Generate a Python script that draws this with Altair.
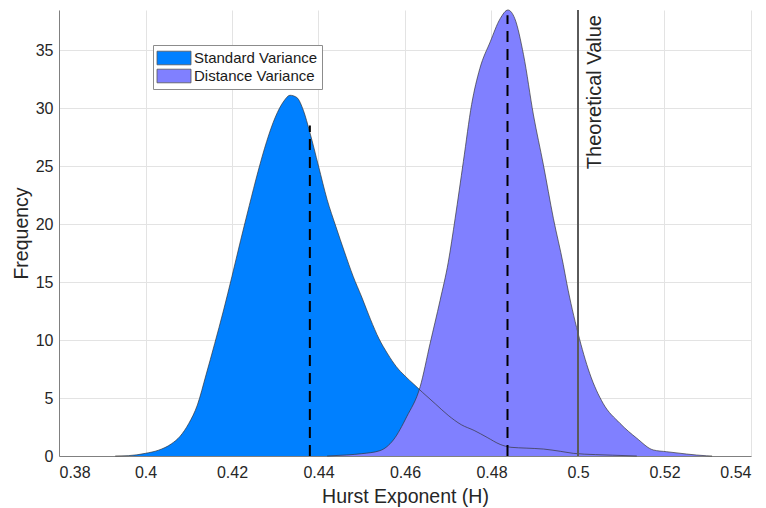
import altair as alt
import pandas as pd

# ---- data ----
std_x = [0.393, 0.396, 0.398, 0.400, 0.403, 0.406, 0.408, 0.410, 0.412, 0.414, 0.416,
         0.418, 0.420, 0.422, 0.424, 0.426, 0.428, 0.430, 0.432, 0.4334, 0.435,
         0.4365, 0.438, 0.440, 0.442, 0.444, 0.446, 0.448, 0.450, 0.452, 0.454,
         0.456, 0.458, 0.460, 0.462, 0.464, 0.467, 0.470, 0.473, 0.476, 0.479,
         0.482, 0.4845, 0.488, 0.492, 0.496, 0.4989, 0.504, 0.508, 0.5136]
std_y = [0.0, 0.03, 0.1, 0.23, 0.5, 1.05, 1.7, 2.8, 4.4, 7.0, 9.7,
         12.5, 15.5, 18.6, 21.6, 24.5, 27.1, 29.2, 30.6, 31.1, 30.9,
         29.8, 27.9, 25.0, 22.1, 19.8, 17.6, 15.5, 13.7, 11.8, 10.1,
         8.8, 7.7, 6.9, 6.2, 5.5, 4.5, 3.5, 2.7, 2.2, 1.6,
         1.0, 0.75, 0.68, 0.6, 0.4, 0.23, 0.12, 0.07, 0.0]

dist_x = [0.442, 0.4465, 0.450, 0.4542, 0.4573, 0.4604, 0.4635, 0.4658, 0.4681, 0.470,
          0.4716, 0.4735, 0.4754, 0.4773, 0.4797, 0.482, 0.4838, 0.4854, 0.4874, 0.4897,
          0.492, 0.4943, 0.4966, 0.4974, 0.5, 0.5027, 0.5058, 0.5097, 0.5136, 0.5174,
          0.5205, 0.5251, 0.5297, 0.531]
dist_y = [0.0, 0.09, 0.2, 0.46, 1.38, 3.39, 5.97, 9.7, 13.4, 16.7,
          20.5, 25.4, 30.3, 33.4, 35.7, 37.7, 38.45, 37.7, 34.6, 29.4,
          25.1, 20.5, 16.5, 14.9, 10.6, 7.13, 4.54, 2.82, 1.53, 0.52,
          0.37, 0.17, 0.02, 0.0]

series_names = ["Standard Variance", "Distance Variance"]
series_colors = ["#0080ff", "#8080ff"]
mean_x = [0.438, 0.4837]
mean_top = [28.5, 38.0]
theoretical_h = [0.5]
theoretical_label = ["Theoretical Value"]
x_ticks = [0.38, 0.40, 0.42, 0.44, 0.46, 0.48, 0.50, 0.52, 0.54]
y_ticks = [0, 5, 10, 15, 20, 25, 30, 35]
x_domain = [0.38, 0.54]
y_max = 38.45

FONT = "Liberation Sans"

std = pd.DataFrame({"h": std_x, "freq": std_y, "series": series_names[0]})
dist = pd.DataFrame({"h": dist_x, "freq": dist_y, "series": series_names[1]})
means = pd.DataFrame({"h": mean_x, "freq": [0.0, 0.0], "top": mean_top})
theo = pd.DataFrame({"h": theoretical_h, "freq": [y_max], "label": theoretical_label})

x_axis = alt.Axis(values=x_ticks, format="~g", title="Hurst Exponent (H)",
                  titleY=46, titleBaseline="alphabetic", labelPadding=8)
y_axis = alt.Axis(values=y_ticks, title="Frequency", titleX=-32,
                  titleBaseline="alphabetic", labelPadding=6)

X = alt.X("h:Q", scale=alt.Scale(domain=x_domain, nice=False, zero=False), axis=x_axis)
Y = alt.Y("freq:Q", scale=alt.Scale(domain=[0, y_max], nice=False), axis=y_axis)

color = alt.Color(
    "series:N",
    scale=alt.Scale(domain=series_names, range=series_colors),
    legend=alt.Legend(
        title=None, orient="none", legendX=94, legendY=35, direction="vertical",
        symbolType="M-2,-0.8H2V0.8H-2Z", symbolSize=289, symbolOffset=8,
        symbolStrokeColor="#555555", symbolStrokeWidth=0.8, symbolOpacity=1,
        labelFont=FONT, labelFontSize=15, labelColor="#1a1a1a", labelOffset=11,
        padding=4, strokeColor="#8c8c8c", fillColor="white", rowPadding=-1,
    ),
)

std_area = alt.Chart(std).mark_area(interpolate="monotone", opacity=1).encode(x=X, y=Y, color=color)
dist_area = alt.Chart(dist).mark_area(interpolate="monotone", opacity=1).encode(x=X, y=Y, color=color)
std_line = alt.Chart(std).mark_line(interpolate="monotone", color="#333333", strokeWidth=0.8,
                                    opacity=0.85).encode(x=X, y=Y)
dist_line = alt.Chart(dist).mark_line(interpolate="monotone", color="#333333", strokeWidth=0.8,
                                      opacity=0.85).encode(x=X, y=Y)
mean_rules = alt.Chart(means).mark_rule(color="black", strokeWidth=2, strokeDash=[11, 7]).encode(
    x=X, y=Y, y2="top:Q")
theo_rule = alt.Chart(theo).mark_rule(color="#5a5a5a", strokeWidth=2).encode(x=X)
theo_text = alt.Chart(theo).mark_text(angle=270, align="right", baseline="top", dx=-5, dy=6.5,
                                      font=FONT, fontSize=20, color="#262626").encode(
    x=X, y=Y, text="label:N")

chart = alt.layer(std_area, dist_area, std_line, dist_line, mean_rules, theo_rule, theo_text).properties(
    width=692, height=446,
    autosize=alt.AutoSizeParams(type="none"),
    padding={"left": 59, "top": 10, "right": 15, "bottom": 52},
    background="white",
).configure_view(stroke=None).configure_axis(
    labelFont=FONT, titleFont=FONT, labelFontSize=16, titleFontSize=19.5,
    labelColor="#262626", titleColor="#262626", titleFontWeight="normal",
    domainColor="#808080", domainWidth=1, ticks=False,
    gridColor="#e3e3e3", gridWidth=1,
)

chart.save("out.html", embed_options={"renderer": "svg", "actions": False})
